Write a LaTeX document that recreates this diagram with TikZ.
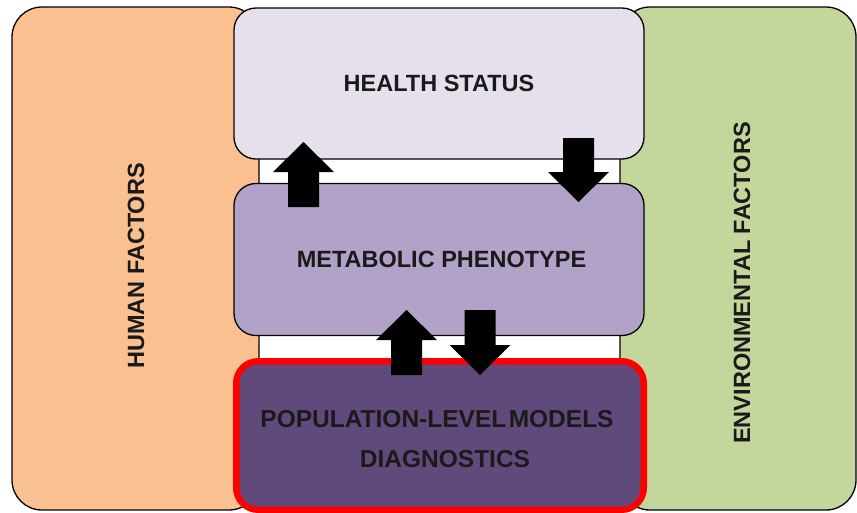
\documentclass[tikz,border=0pt]{standalone}
\usepackage{fontspec}
\setmainfont{Liberation Sans}
\definecolor{humanc}{HTML}{FAC090}
\definecolor{envc}{HTML}{C3D69B}
\definecolor{healthc}{HTML}{E6E0EC}
\definecolor{metabc}{HTML}{B3A2C7}
\definecolor{popc}{HTML}{604A7B}
\definecolor{txtc}{HTML}{1A1A1A}
\tikzset{
  box/.style={draw=black, line width=1.3pt, rounded corners=#1, inner sep=0pt, text=txtc,
    font=\bfseries\fontsize{23.5}{28}\selectfont, align=center},
  box/.default=22pt,
  sidetxt/.style={rotate=90, inner sep=0pt, text=txtc, font=\bfseries\fontsize{23.5}{28}\selectfont},
  poptxt/.style={inner sep=0pt, text=txtc, align=center, font=\bfseries\fontsize{24.5}{28}\selectfont},
  blockarrow/.style={fill=black, draw=none}
}
\newcommand\arrowup[3]{% x, y bottom, y tip
  \fill[blockarrow] (#1-15.5,#2) -- (#1-15.5,#3+30) -- (#1-30.5,#3+30) -- (#1,#3)
    -- (#1+30.5,#3+30) -- (#1+15.5,#3+30) -- (#1+15.5,#2) -- cycle;}
\newcommand\arrowdown[3]{% x, y top, y tip
  \fill[blockarrow] (#1-15.5,#2) -- (#1-15.5,#3-30) -- (#1-30.5,#3-30) -- (#1,#3)
    -- (#1+30.5,#3-30) -- (#1+15.5,#3-30) -- (#1+15.5,#2) -- cycle;}
\begin{document}
\begin{tikzpicture}[x=1pt,y=-1pt]
\useasboundingbox (0,0) rectangle (857,512);
% side boxes
\node[box=30pt, fill=humanc, minimum width=247pt, minimum height=503pt] (human) at (135.5,258.5) {};
\node[box=30pt, fill=envc, minimum width=236pt, minimum height=503pt] (env) at (738,258.5) {};
\node[sidetxt] (humantxt) at (136,266) {HUMAN FACTORS};
\node[sidetxt] (envtxt) at (742,283) {ENVIRONMENTAL FACTORS};
% centre boxes
\node[box, fill=healthc, minimum width=410pt, minimum height=151pt] (health) at (439,83.5) {HEALTH STATUS};
\node[box, fill=metabc, minimum width=410pt, minimum height=152pt] (metab) at (439,259.5) {\hspace*{5pt}METABOLIC PHENOTYPE};
\node[box, draw=red, line width=6.5pt, fill=popc, minimum width=407.5pt, minimum height=148.5pt] (pop) at (440,435.5) {};
\node[poptxt] (poptext) at (437,439)
  {{\spaceskip=0.1em POPULATION-LEVEL MODELS}\\[12pt]\hspace*{16pt}DIAGNOSTICS};
% arrows
\arrowup{303.5}{207}{142}
\arrowdown{578.5}{138}{202}
\arrowup{406.5}{375}{310}
\arrowdown{480}{310}{375}
\end{tikzpicture}
\end{document}
